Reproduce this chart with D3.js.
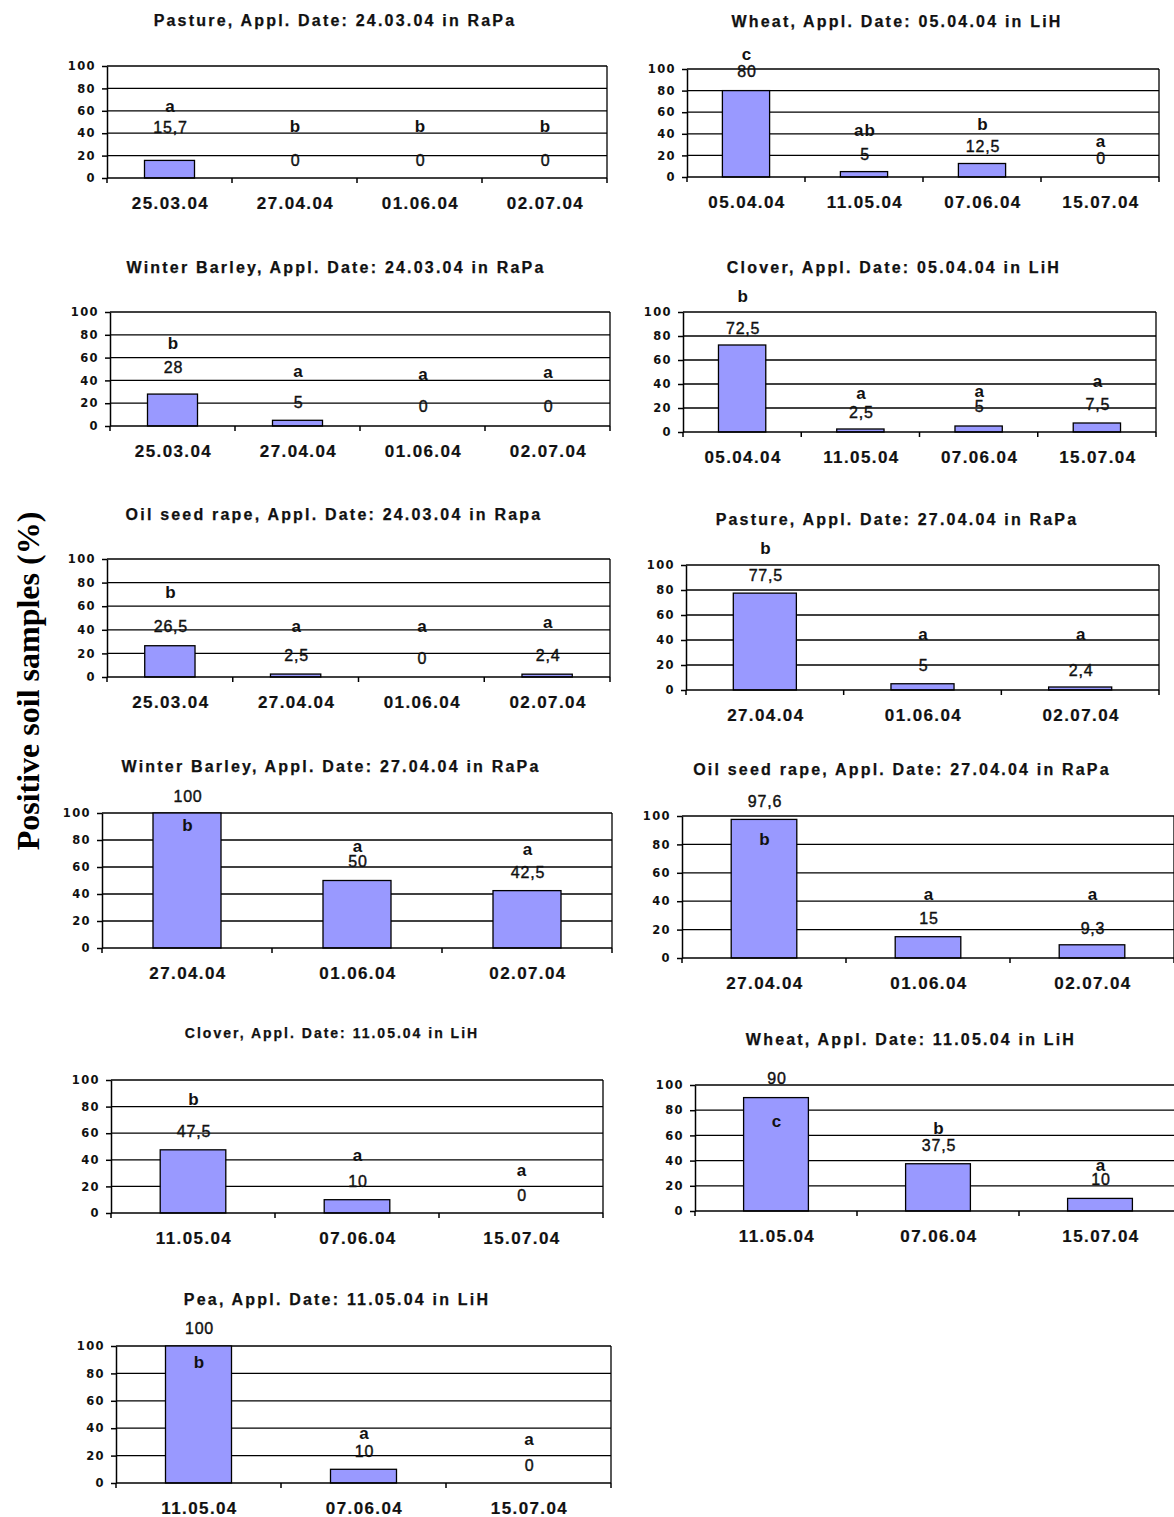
<!DOCTYPE html>
<html>
<head>
<meta charset="utf-8">
<script src="https://cdn.jsdelivr.net/npm/d3@7"></script>
<style>
  html, body { margin: 0; padding: 0; background: #fff; }
  svg { display: block; }
</style>
</head>
<body>
<script>
// ---------- DATA ----------
const yTicks = [0, 20, 40, 60, 80, 100];
const yAxisTitle = "Positive soil samples (%)";

const titles = [
  "Pasture, Appl. Date: 24.03.04 in RaPa",
  "Wheat, Appl. Date: 05.04.04 in LiH",
  "Winter Barley, Appl. Date: 24.03.04 in RaPa",
  "Clover, Appl. Date: 05.04.04 in LiH",
  "Oil seed rape, Appl. Date: 24.03.04 in Rapa",
  "Pasture, Appl. Date: 27.04.04 in RaPa",
  "Winter Barley, Appl. Date: 27.04.04 in RaPa",
  "Oil seed rape, Appl. Date: 27.04.04 in RaPa",
  "Clover, Appl. Date: 11.05.04 in LiH",
  "Wheat, Appl. Date: 11.05.04 in LiH",
  "Pea, Appl. Date: 11.05.04 in LiH"
];

const datesRaPaMar = ["25.03.04", "27.04.04", "01.06.04", "02.07.04"];
const datesLiHApr  = ["05.04.04", "11.05.04", "07.06.04", "15.07.04"];
const datesRaPaApr = ["27.04.04", "01.06.04", "02.07.04"];
const datesLiHMay  = ["11.05.04", "07.06.04", "15.07.04"];

const valuesPasture1  = [15.7, 0, 0, 0];
const valuesWheat1    = [80, 5, 12.5, 0];
const valuesBarley1   = [28, 5, 0, 0];
const valuesClover1   = [72.5, 2.5, 5, 7.5];
const valuesRape1     = [26.5, 2.5, 0, 2.4];
const valuesPasture2  = [77.5, 5, 2.4];
const valuesBarley2   = [100, 50, 42.5];
const valuesRape2     = [97.6, 15, 9.3];
const valuesClover2   = [47.5, 10, 0];
const valuesWheat2    = [90, 37.5, 10];
const valuesPea       = [100, 10, 0];

const lettersPasture1 = ["a", "b", "b", "b"];
const lettersWheat1   = ["c", "ab", "b", "a"];
const lettersBarley1  = ["b", "a", "a", "a"];
const lettersClover1  = ["b", "a", "a", "a"];
const lettersRape1    = ["b", "a", "a", "a"];
const lettersPasture2 = ["b", "a", "a"];
const lettersBarley2  = ["b", "a", "a"];
const lettersRape2    = ["b", "a", "a"];
const lettersClover2  = ["b", "a", "a"];
const lettersWheat2   = ["c", "b", "a"];
const lettersPea      = ["b", "a", "a"];

const panelData = [
  { cats: datesRaPaMar, values: valuesPasture1, letters: lettersPasture1 },
  { cats: datesLiHApr,  values: valuesWheat1,   letters: lettersWheat1 },
  { cats: datesRaPaMar, values: valuesBarley1,  letters: lettersBarley1 },
  { cats: datesLiHApr,  values: valuesClover1,  letters: lettersClover1 },
  { cats: datesRaPaMar, values: valuesRape1,    letters: lettersRape1 },
  { cats: datesRaPaApr, values: valuesPasture2, letters: lettersPasture2 },
  { cats: datesRaPaApr, values: valuesBarley2,  letters: lettersBarley2 },
  { cats: datesRaPaApr, values: valuesRape2,    letters: lettersRape2 },
  { cats: datesLiHMay,  values: valuesClover2,  letters: lettersClover2 },
  { cats: datesLiHMay,  values: valuesWheat2,   letters: lettersWheat2 },
  { cats: datesLiHMay,  values: valuesPea,      letters: lettersPea }
];

// ---------- LAYOUT (positions, in pixels / value units) ----------
const layout = [
  { left: 107, right: 607,  top: 66,   bottom: 178,  tx: 335, ty: 20,   tsize: 16 },
  { left: 687, right: 1159, top: 69,   bottom: 177,  tx: 897, ty: 21,   tsize: 16 },
  { left: 110, right: 610,  top: 312,  bottom: 426,  tx: 336, ty: 267,  tsize: 16 },
  { left: 683, right: 1156, top: 312,  bottom: 432,  tx: 894, ty: 267,  tsize: 16 },
  { left: 107, right: 610,  top: 559,  bottom: 677,  tx: 334, ty: 514,  tsize: 16 },
  { left: 686, right: 1159, top: 565,  bottom: 690,  tx: 897, ty: 519,  tsize: 16 },
  { left: 102, right: 612,  top: 813,  bottom: 948,  tx: 331, ty: 766,  tsize: 16 },
  { left: 682, right: 1174, top: 816,  bottom: 958,  tx: 902, ty: 769,  tsize: 16 },
  { left: 111, right: 603,  top: 1080, bottom: 1213, tx: 332, ty: 1033, tsize: 14 },
  { left: 695, right: 1181, top: 1085, bottom: 1211, tx: 911, ty: 1039, tsize: 16 },
  { left: 116, right: 611,  top: 1346, bottom: 1483, tx: 337, ty: 1299, tsize: 16 }
];
// label centres expressed in value units (y scale)
const letterPos = [
  [63.8, 45.8, 45.8, 45.8],
  [113, 43.5, 48.8, 32.7],
  [72.8, 48.2, 45.6, 46.5],
  [112.8, 32.2, 33.6, 41.9],
  [71.2, 43.2, 42.4, 45.8],
  [113.3, 44.5, 44.5],
  [90.4, 75.5, 72.6],
  [83.6, 45, 45],
  [85, 43.6, 32.3],
  [71.4, 65.6, 36.5],
  [87.8, 36.3, 32]
];
const valuePos = [
  [44.9, 16, 16, 16],
  [98, 20.4, 28, 17.3],
  [50.9, 21, 16.7, 16.7],
  [86.4, 16.1, 21.1, 23.3],
  [43.2, 18.6, 16.1, 18.6],
  [92, 19.5, 15.5],
  [112.1, 63.9, 56],
  [110.1, 28, 20.9],
  [61.1, 23.6, 13.5],
  [105.3, 52, 25],
  [112.9, 22.9, 13.1]
];

// ---------- DRAW ----------
const W = 1174, H = 1517;
const svg = d3.select("body").append("svg")
  .attr("width", W).attr("height", H)
  .style("font-family", "'Liberation Sans', Arial, sans-serif");

const fmt = v => d3.format("")(v).replace(".", ",");

panelData.forEach((p, i) => {
  const L = layout[i];
  const g = svg.append("g");

  const x = d3.scaleBand().domain(p.cats).range([L.left, L.right])
    .paddingInner(0.6).paddingOuter(0.3);
  const y = d3.scaleLinear().domain([0, 100]).range([L.bottom, L.top]);
  const step = x.step();

  // title
  g.append("text")
    .attr("x", L.tx).attr("y", L.ty)
    .attr("text-anchor", "middle").attr("dominant-baseline", "central")
    .attr("font-weight", "bold").attr("font-size", L.tsize)
    .attr("letter-spacing", L.tsize === 16 ? 2.2 : 2.0)
    .attr("fill", "#111").attr("stroke", "#111").attr("stroke-width", 0.25)
    .text(titles[i]);

  // gridlines (20..100)
  g.selectAll(".grid").data(yTicks.filter(t => t > 0)).join("line")
    .attr("x1", L.left).attr("x2", L.right)
    .attr("y1", d => y(d)).attr("y2", d => y(d))
    .attr("stroke", "#000").attr("stroke-width", 1.3);
  // right border
  g.append("line")
    .attr("x1", L.right).attr("x2", L.right)
    .attr("y1", y(100)).attr("y2", y(0))
    .attr("stroke", "#000").attr("stroke-width", 1.3);

  // bars
  g.selectAll(".bar").data(p.values).join("rect")
    .attr("x", (d, j) => x(p.cats[j]))
    .attr("width", x.bandwidth())
    .attr("y", d => y(d))
    .attr("height", d => y(0) - y(d))
    .attr("fill", "#9999ff")
    .attr("stroke", "#000").attr("stroke-width", 1.3)
    .attr("display", d => d > 0 ? null : "none");

  // y axis
  const yAxis = g.append("g")
    .attr("transform", `translate(${L.left},0)`)
    .call(d3.axisLeft(y).tickValues(yTicks).tickSize(5).tickPadding(6).tickSizeOuter(0));
  yAxis.select(".domain").attr("stroke", "#000").attr("stroke-width", 1.5);
  yAxis.selectAll(".tick line").attr("stroke", "#000").attr("stroke-width", 1.5);
  yAxis.selectAll(".tick text")
    .attr("font-family", "'DejaVu Sans', sans-serif")
    .attr("font-weight", "bold").attr("font-size", 11.5)
    .attr("letter-spacing", 1.4)
    .attr("fill", "#111");

  // x axis: line + ticks at band boundaries
  g.append("line")
    .attr("x1", L.left).attr("x2", L.right)
    .attr("y1", y(0)).attr("y2", y(0))
    .attr("stroke", "#000").attr("stroke-width", 1.5);
  const bounds = d3.range(p.cats.length + 1);
  g.selectAll(".xt").data(bounds).join("line")
    .attr("x1", k => L.left + k * step).attr("x2", k => L.left + k * step)
    .attr("y1", y(0)).attr("y2", y(0) + 5)
    .attr("stroke", "#000").attr("stroke-width", 1.5);
  g.selectAll(".xl").data(p.cats).join("text")
    .attr("x", d => x(d) + x.bandwidth() / 2 + 1)
    .attr("y", y(0) + 25)
    .attr("text-anchor", "middle").attr("dominant-baseline", "central")
    .attr("font-weight", "bold").attr("font-size", 17)
    .attr("letter-spacing", 1.4)
    .attr("fill", "#111").attr("stroke", "#111").attr("stroke-width", 0.2)
    .text(d => d);

  // value labels
  g.selectAll(".vl").data(p.values).join("text")
    .attr("x", (d, j) => x(p.cats[j]) + x.bandwidth() / 2 + 1)
    .attr("y", (d, j) => y(valuePos[i][j]))
    .attr("text-anchor", "middle").attr("dominant-baseline", "central")
    .attr("font-size", 16).attr("letter-spacing", 0.8)
    .attr("fill", "#111").attr("stroke", "#111").attr("stroke-width", 0.4)
    .text(d => fmt(d));

  // significance letters
  g.selectAll(".ll").data(p.letters).join("text")
    .attr("x", (d, j) => x(p.cats[j]) + x.bandwidth() / 2 + 1)
    .attr("y", (d, j) => y(letterPos[i][j]))
    .attr("text-anchor", "middle").attr("dominant-baseline", "central")
    .attr("font-weight", "bold").attr("font-size", 17)
    .attr("letter-spacing", 1)
    .attr("fill", "#111")
    .text(d => d);
});

// global y-axis title
svg.append("text")
  .attr("transform", "translate(28,681) rotate(-90)")
  .attr("text-anchor", "middle").attr("dominant-baseline", "central")
  .attr("font-family", "'Liberation Serif', 'Times New Roman', serif")
  .attr("font-weight", "bold").attr("font-size", 32)
  .attr("fill", "#000")
  .text(yAxisTitle);
</script>
</body>
</html>
